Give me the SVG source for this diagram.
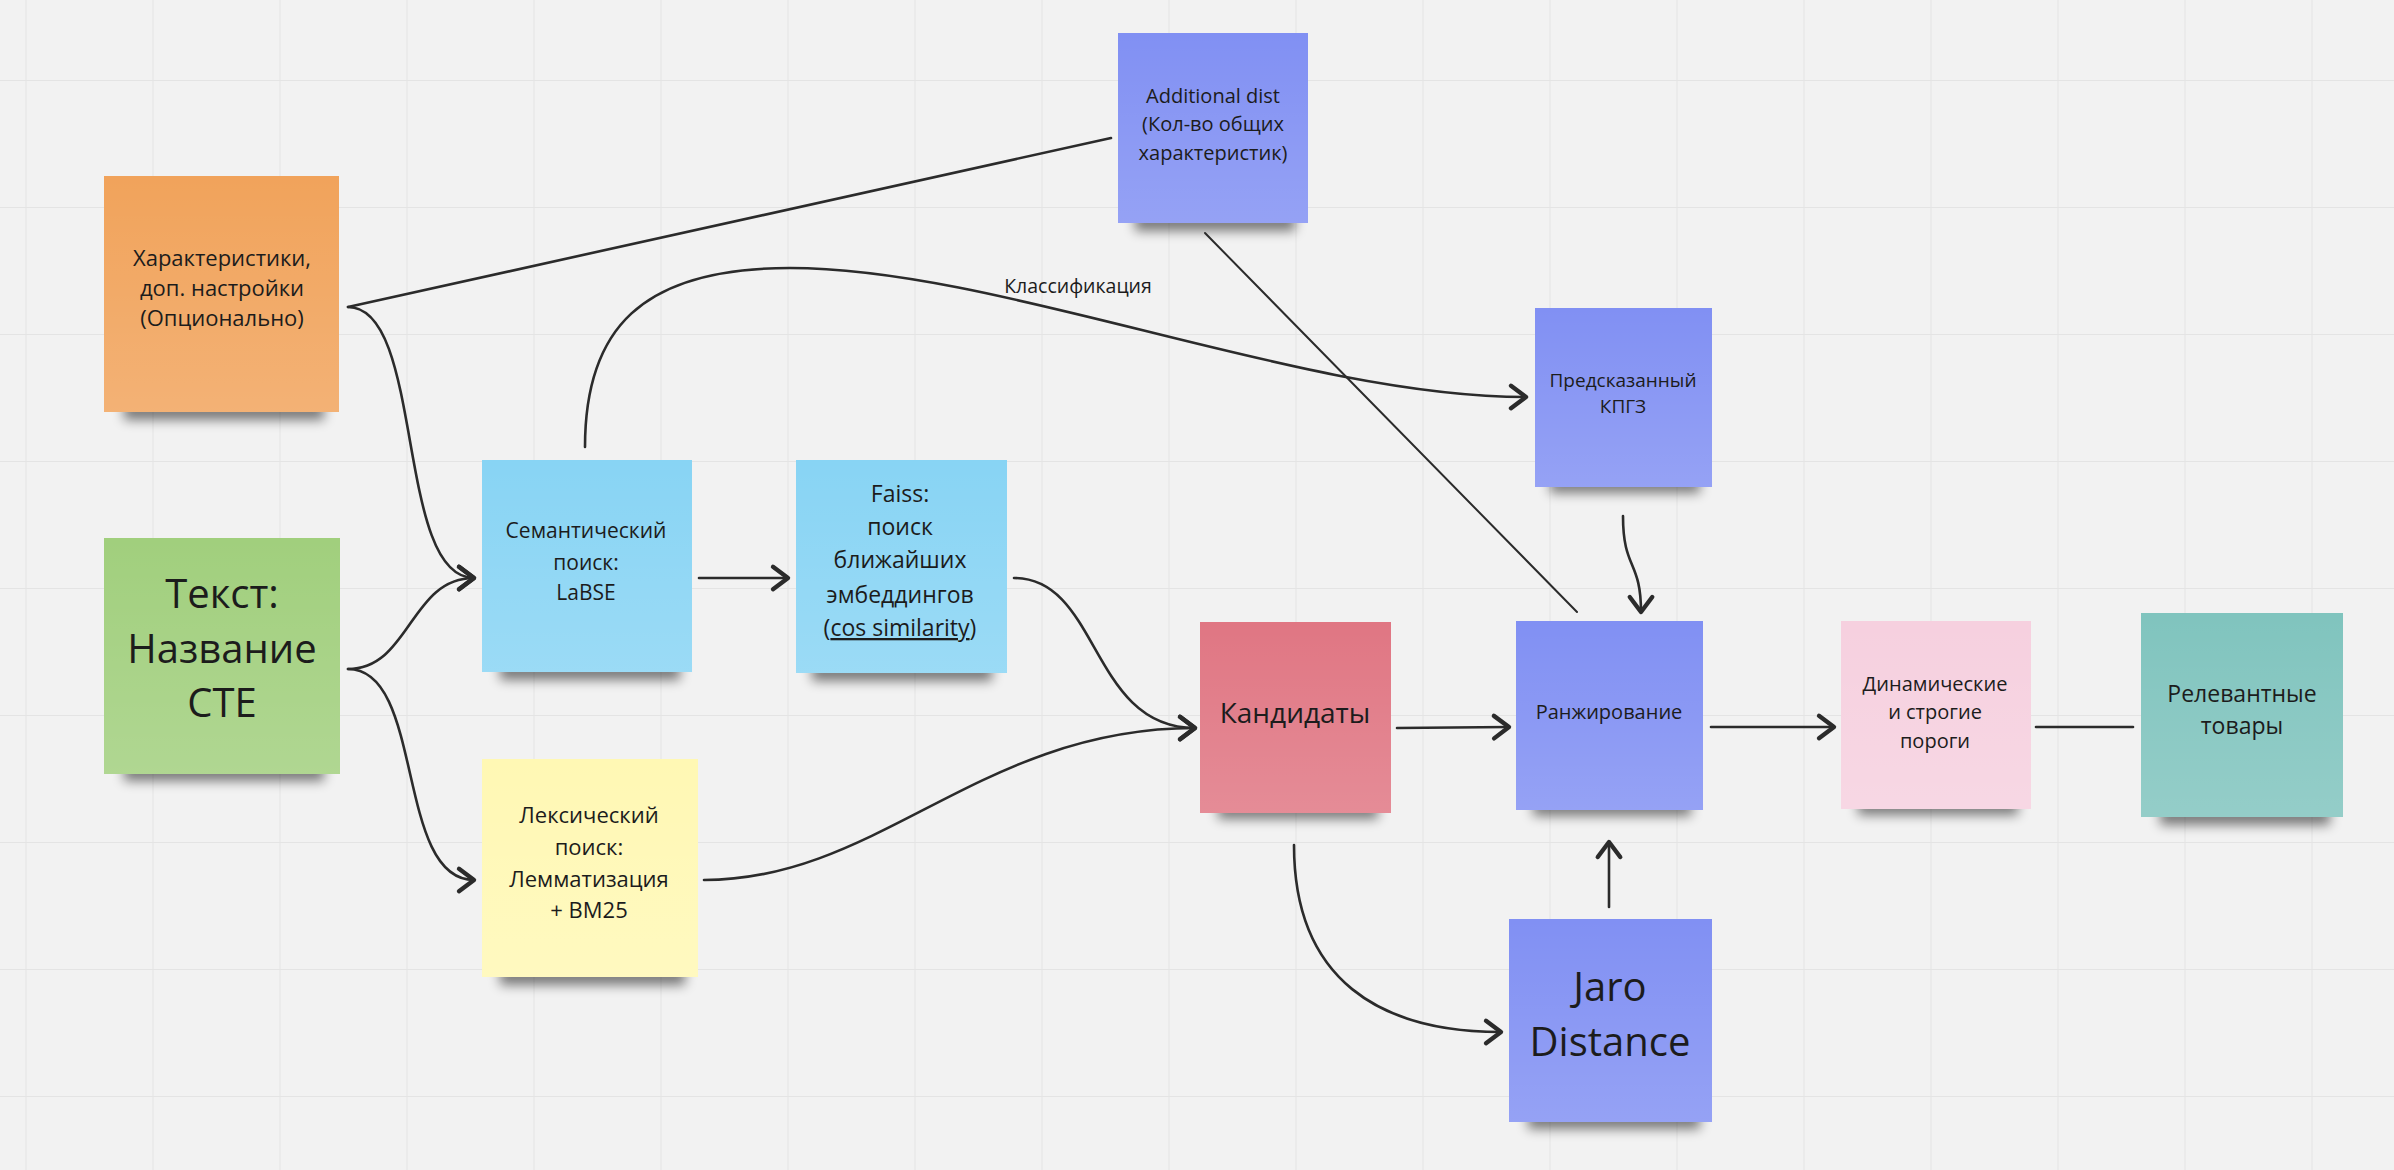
<svg xmlns="http://www.w3.org/2000/svg" width="2394" height="1170" viewBox="0 0 2394 1170">
<defs>
<pattern id="grid" x="25.5" y="80" width="127" height="127" patternUnits="userSpaceOnUse">
<path d="M0,0 L127,0 M0,0 L0,127" fill="none" stroke="#e4e4e4" stroke-width="2"/>
</pattern>
<filter id="sh" x="-20%" y="-100%" width="140%" height="300%">
<feGaussianBlur stdDeviation="6"/>
</filter>
<linearGradient id="sheen" x1="0" y1="0" x2="0" y2="1">
<stop offset="0" stop-color="#ffffff" stop-opacity="0"/>
<stop offset="1" stop-color="#ffffff" stop-opacity="0.16"/>
</linearGradient>
<marker id="arr" markerWidth="30" markerHeight="30" refX="0" refY="0" viewBox="-16 -12 20 24" orient="auto" markerUnits="userSpaceOnUse">
<path d="M-12,-9 L0,0 L-12,9" fill="none" stroke="#2b2b2b" stroke-width="3.5" stroke-linejoin="round" stroke-linecap="round"/>
</marker>
</defs>
<style>
.note{stroke:none}
.shadow{fill:#000;opacity:0.5}
.t{font-family:"Open Sans","Noto Sans","Liberation Sans",sans-serif;fill:#1c1c1c;text-anchor:middle}
.c{fill:none;stroke:#2b2b2b;stroke-width:2.6;stroke-linecap:round}
.thin{stroke-width:2}
.lbl{font-family:"Open Sans","Noto Sans","Liberation Sans",sans-serif;fill:#1c1c1c;font-size:19.5px;text-anchor:middle}
</style>
<rect x="0" y="0" width="2394" height="1170" fill="#f2f2f2"/>
<rect x="0" y="0" width="2394" height="1170" fill="url(#grid)"/>

<g id="n-orange">
<rect class="shadow" x="124" y="402" width="200" height="18" filter="url(#sh)"/>
<rect class="note" x="104" y="176" width="235" height="236" fill="#f1a35b"/>
<rect x="104" y="176" width="235" height="236" fill="url(#sheen)"/>
<text class="t" font-size="22"><tspan x="222" y="266">Характеристики,</tspan><tspan x="222" y="296">доп. настройки</tspan><tspan x="222" y="326">(Опционально)</tspan></text>
</g>

<g id="n-text">
<rect class="shadow" x="124" y="763" width="200" height="18" filter="url(#sh)"/>
<rect class="note" x="104" y="538" width="236" height="236" fill="#a1cf7d"/>
<rect x="104" y="538" width="236" height="236" fill="url(#sheen)"/>
<text class="t" font-size="40"><tspan x="222" y="608">Текст:</tspan><tspan x="222" y="663">Название</tspan><tspan x="222" y="717">СТЕ</tspan></text>
</g>

<g id="n-semantic">
<rect class="shadow" x="500" y="662" width="180" height="18" filter="url(#sh)"/>
<rect class="note" x="482" y="460" width="210" height="212" fill="#88d4f4"/>
<rect x="482" y="460" width="210" height="212" fill="url(#sheen)"/>
<text class="t" font-size="21"><tspan x="586" y="538">Семантический</tspan><tspan x="586" y="570">поиск:</tspan><tspan x="586" y="600">LaBSE</tspan></text>
</g>

<g id="n-faiss">
<rect class="shadow" x="812" y="663" width="180" height="18" filter="url(#sh)"/>
<rect class="note" x="796" y="460" width="211" height="213" fill="#88d4f4"/>
<rect x="796" y="460" width="211" height="213" fill="url(#sheen)"/>
<text class="t" font-size="23"><tspan x="900" y="502">Faiss:</tspan><tspan x="900" y="535">поиск</tspan><tspan x="900" y="568">ближайших</tspan><tspan x="900" y="603">эмбеддингов</tspan><tspan x="900" y="636">(<tspan text-decoration="underline">cos similarity</tspan>)</tspan></text>
</g>

<g id="n-lexical">
<rect class="shadow" x="500" y="967" width="185" height="18" filter="url(#sh)"/>
<rect class="note" x="482" y="759" width="216" height="218" fill="#fff8b4"/>
<rect x="482" y="759" width="216" height="218" fill="url(#sheen)"/>
<text class="t" font-size="22"><tspan x="589" y="823">Лексический</tspan><tspan x="589" y="855">поиск:</tspan><tspan x="589" y="887">Лемматизация</tspan><tspan x="589" y="918">+ BM25</tspan></text>
</g>

<g id="n-additional">
<rect class="shadow" x="1135" y="213" width="160" height="18" filter="url(#sh)"/>
<rect class="note" x="1118" y="33" width="190" height="190" fill="#8190f3"/>
<rect x="1118" y="33" width="190" height="190" fill="url(#sheen)"/>
<text class="t" font-size="20"><tspan x="1213" y="103">Additional dist</tspan><tspan x="1213" y="131">(Кол-во общих</tspan><tspan x="1213" y="160">характеристик)</tspan></text>
</g>

<g id="n-kpgz">
<rect class="shadow" x="1550" y="477" width="150" height="16" filter="url(#sh)"/>
<rect class="note" x="1535" y="308" width="177" height="179" fill="#8190f3"/>
<rect x="1535" y="308" width="177" height="179" fill="url(#sheen)"/>
<text class="t" font-size="19"><tspan x="1623" y="387">Предсказанный</tspan><tspan x="1623" y="413">КПГЗ</tspan></text>
</g>

<g id="n-candidates">
<rect class="shadow" x="1218" y="803" width="160" height="16" filter="url(#sh)"/>
<rect class="note" x="1200" y="622" width="191" height="191" fill="#e07683"/>
<rect x="1200" y="622" width="191" height="191" fill="url(#sheen)"/>
<text class="t" font-size="28" x="1295" y="723">Кандидаты</text>
</g>

<g id="n-ranking">
<rect class="shadow" x="1533" y="800" width="158" height="16" filter="url(#sh)"/>
<rect class="note" x="1516" y="621" width="187" height="189" fill="#8190f3"/>
<rect x="1516" y="621" width="187" height="189" fill="url(#sheen)"/>
<text class="t" font-size="20" x="1609" y="719">Ранжирование</text>
</g>

<g id="n-jaro">
<rect class="shadow" x="1528" y="1111" width="172" height="18" filter="url(#sh)"/>
<rect class="note" x="1509" y="919" width="203" height="203" fill="#8190f3"/>
<rect x="1509" y="919" width="203" height="203" fill="url(#sheen)"/>
<text class="t" font-size="40"><tspan x="1610" y="1001">Jaro</tspan><tspan x="1610" y="1056">Distance</tspan></text>
</g>

<g id="n-thresholds">
<rect class="shadow" x="1858" y="799" width="160" height="16" filter="url(#sh)"/>
<rect class="note" x="1841" y="621" width="190" height="188" fill="#f6d0df"/>
<rect x="1841" y="621" width="190" height="188" fill="url(#sheen)"/>
<text class="t" font-size="20"><tspan x="1935" y="691">Динамические</tspan><tspan x="1935" y="719">и строгие</tspan><tspan x="1935" y="748">пороги</tspan></text>
</g>

<g id="n-relevant">
<rect class="shadow" x="2160" y="807" width="170" height="18" filter="url(#sh)"/>
<rect class="note" x="2141" y="613" width="202" height="204" fill="#80c4be"/>
<rect x="2141" y="613" width="202" height="204" fill="url(#sheen)"/>
<text class="t" font-size="23"><tspan x="2242" y="702">Релевантные</tspan><tspan x="2242" y="734">товары</tspan></text>
</g>

<g id="connectors">
<path class="c" d="M348,307 L1111,138"/>
<path class="c" d="M348,307 C425,307 395,578 474,578" marker-end="url(#arr)"/>
<path class="c" d="M348,669 C410,669 410,578 474,578" marker-end="url(#arr)"/>
<path class="c" d="M348,669 C425,669 395,880 474,880" marker-end="url(#arr)"/>
<path class="c" d="M585,447 C585,330 640,268 790,268 C1000,268 1300,397 1526,397" marker-end="url(#arr)"/>
<text class="lbl" x="1078" y="293">Классификация</text>
<path class="c" d="M699,578 L788,578" marker-end="url(#arr)"/>
<path class="c" d="M1014,578 C1100,578 1090,728 1195,728" marker-end="url(#arr)"/>
<path class="c" d="M704,880 C880,880 980,728 1195,728" marker-end="url(#arr)"/>
<path class="c" d="M1397,728 L1509,727" marker-end="url(#arr)"/>
<path class="c" d="M1294,845 C1294,980 1380,1032 1501,1032" marker-end="url(#arr)"/>
<path class="c" d="M1609,907 L1609,842" marker-end="url(#arr)"/>
<path class="c" d="M1623,516 C1623,570 1641,560 1641,612" marker-end="url(#arr)"/>
<path class="c thin" d="M1205,233 L1577,612"/>
<path class="c" d="M1711,727 L1834,727" marker-end="url(#arr)"/>
<path class="c" d="M2036,727 L2133,727"/>
</g>
</svg>
